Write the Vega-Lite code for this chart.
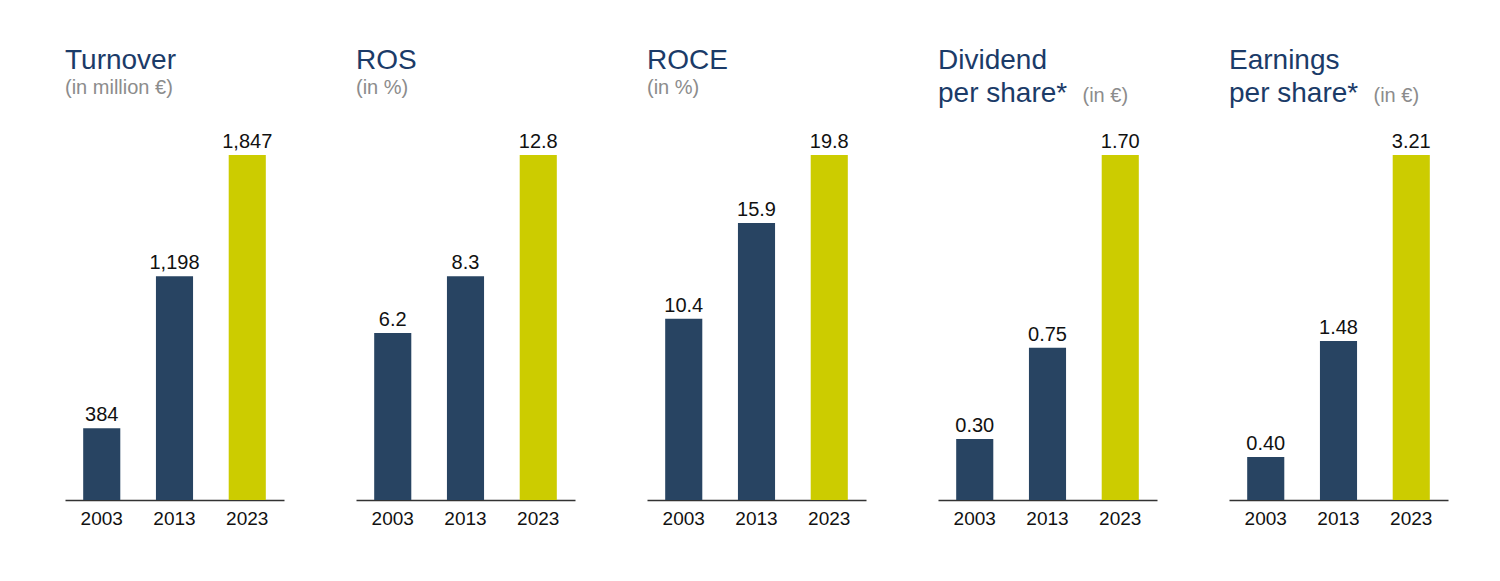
{
  "$schema": "https://vega.github.io/schema/vega-lite/v6.json",
  "padding": {"top": 47, "left": 65, "right": 5, "bottom": 5},
  "background": "white",
  "data": {"values": [
    {"metric": "Turnover", "year": "2003", "value": 384, "label": "384"},
    {"metric": "Turnover", "year": "2013", "value": 1198, "label": "1,198"},
    {"metric": "Turnover", "year": "2023", "value": 1847, "label": "1,847"},
    {"metric": "ROS", "year": "2003", "value": 6.2, "label": "6.2"},
    {"metric": "ROS", "year": "2013", "value": 8.3, "label": "8.3"},
    {"metric": "ROS", "year": "2023", "value": 12.8, "label": "12.8"},
    {"metric": "ROCE", "year": "2003", "value": 10.4, "label": "10.4"},
    {"metric": "ROCE", "year": "2013", "value": 15.9, "label": "15.9"},
    {"metric": "ROCE", "year": "2023", "value": 19.8, "label": "19.8"},
    {"metric": "Dividend", "year": "2003", "value": 0.30, "label": "0.30"},
    {"metric": "Dividend", "year": "2013", "value": 0.75, "label": "0.75"},
    {"metric": "Dividend", "year": "2023", "value": 1.70, "label": "1.70"},
    {"metric": "Earnings", "year": "2003", "value": 0.40, "label": "0.40"},
    {"metric": "Earnings", "year": "2013", "value": 1.48, "label": "1.48"},
    {"metric": "Earnings", "year": "2023", "value": 3.21, "label": "3.21"}
  ]},
  "spacing": 72,
  "hconcat": [
    {
      "width": 219, "height": 345,
      "title": {"text": "Turnover", "subtitle": "(in million €)", "offset": 34},
      "transform": [{"filter": "datum.metric === 'Turnover'"}],
      "encoding": {
        "x": {"field": "year", "type": "nominal", "title": null, "scale": {"paddingInner": 0.49, "paddingOuter": 0.25}},
        "y": {"field": "value", "type": "quantitative", "axis": null, "scale": {"nice": false, "zero": true}}
      },
      "layer": [
        {"mark": {"type": "bar"}, "encoding": {"color": {"field": "year", "type": "nominal", "legend": null, "scale": {"domain": ["2003", "2013", "2023"], "range": ["#284462", "#284462", "#cccc00"]}}}},
        {"mark": {"type": "text", "baseline": "alphabetic", "dy": -7, "fontSize": 20, "font": "Liberation Sans", "color": "#111111"}, "encoding": {"text": {"field": "label"}}}
      ]
    },
    {
      "width": 219, "height": 345,
      "title": {"text": "ROS", "subtitle": "(in %)", "offset": 34},
      "transform": [{"filter": "datum.metric === 'ROS'"}],
      "encoding": {
        "x": {"field": "year", "type": "nominal", "title": null, "scale": {"paddingInner": 0.49, "paddingOuter": 0.25}},
        "y": {"field": "value", "type": "quantitative", "axis": null, "scale": {"nice": false, "zero": true}}
      },
      "layer": [
        {"mark": {"type": "bar"}, "encoding": {"color": {"field": "year", "type": "nominal", "legend": null, "scale": {"domain": ["2003", "2013", "2023"], "range": ["#284462", "#284462", "#cccc00"]}}}},
        {"mark": {"type": "text", "baseline": "alphabetic", "dy": -7, "fontSize": 20, "font": "Liberation Sans", "color": "#111111"}, "encoding": {"text": {"field": "label"}}}
      ]
    },
    {
      "width": 219, "height": 345,
      "title": {"text": "ROCE", "subtitle": "(in %)", "offset": 34},
      "transform": [{"filter": "datum.metric === 'ROCE'"}],
      "encoding": {
        "x": {"field": "year", "type": "nominal", "title": null, "scale": {"paddingInner": 0.49, "paddingOuter": 0.25}},
        "y": {"field": "value", "type": "quantitative", "axis": null, "scale": {"nice": false, "zero": true}}
      },
      "layer": [
        {"mark": {"type": "bar"}, "encoding": {"color": {"field": "year", "type": "nominal", "legend": null, "scale": {"domain": ["2003", "2013", "2023"], "range": ["#284462", "#284462", "#cccc00"]}}}},
        {"mark": {"type": "text", "baseline": "alphabetic", "dy": -7, "fontSize": 20, "font": "Liberation Sans", "color": "#111111"}, "encoding": {"text": {"field": "label"}}}
      ]
    },
    {
      "width": 219, "height": 345,
      "title": {"text": ["Dividend", "per share*"], "subtitle": "\u200b\u00a0\u00a0\u00a0\u00a0\u00a0\u00a0\u00a0\u00a0\u00a0\u00a0\u00a0\u00a0\u00a0\u00a0\u00a0\u00a0\u00a0\u00a0\u00a0\u00a0\u00a0\u00a0\u00a0\u00a0\u00a0\u00a0(in €)", "subtitlePadding": -22, "lineHeight": 33, "offset": 24},
      "transform": [{"filter": "datum.metric === 'Dividend'"}],
      "encoding": {
        "x": {"field": "year", "type": "nominal", "title": null, "scale": {"paddingInner": 0.49, "paddingOuter": 0.25}},
        "y": {"field": "value", "type": "quantitative", "axis": null, "scale": {"nice": false, "zero": true}}
      },
      "layer": [
        {"mark": {"type": "bar"}, "encoding": {"color": {"field": "year", "type": "nominal", "legend": null, "scale": {"domain": ["2003", "2013", "2023"], "range": ["#284462", "#284462", "#cccc00"]}}}},
        {"mark": {"type": "text", "baseline": "alphabetic", "dy": -7, "fontSize": 20, "font": "Liberation Sans", "color": "#111111"}, "encoding": {"text": {"field": "label"}}}
      ]
    },
    {
      "width": 219, "height": 345,
      "title": {"text": ["Earnings", "per share*"], "subtitle": "\u200b\u00a0\u00a0\u00a0\u00a0\u00a0\u00a0\u00a0\u00a0\u00a0\u00a0\u00a0\u00a0\u00a0\u00a0\u00a0\u00a0\u00a0\u00a0\u00a0\u00a0\u00a0\u00a0\u00a0\u00a0\u00a0\u00a0(in €)", "subtitlePadding": -22, "lineHeight": 33, "offset": 24},
      "transform": [{"filter": "datum.metric === 'Earnings'"}],
      "encoding": {
        "x": {"field": "year", "type": "nominal", "title": null, "scale": {"paddingInner": 0.49, "paddingOuter": 0.25}},
        "y": {"field": "value", "type": "quantitative", "axis": null, "scale": {"nice": false, "zero": true}}
      },
      "layer": [
        {"mark": {"type": "bar"}, "encoding": {"color": {"field": "year", "type": "nominal", "legend": null, "scale": {"domain": ["2003", "2013", "2023"], "range": ["#284462", "#284462", "#cccc00"]}}}},
        {"mark": {"type": "text", "baseline": "alphabetic", "dy": -7, "fontSize": 20, "font": "Liberation Sans", "color": "#111111"}, "encoding": {"text": {"field": "label"}}}
      ]
    }
  ],
  "resolve": {"scale": {"y": "independent", "x": "independent"}},
  "config": {
    "view": {"stroke": null},
    "font": "Liberation Sans",
    "axisX": {
      "domainColor": "#333333", "domainWidth": 1.5, "ticks": false, "tickSize": 0,
      "labelAngle": 0, "labelFontSize": 19, "labelColor": "#111111", "labelPadding": 9,
      "labelFont": "Liberation Sans", "grid": false
    },
    "title": {
      "anchor": "start", "font": "Liberation Sans", "fontSize": 28, "fontWeight": "normal",
      "color": "#1b3b68", "lineHeight": 32,
      "subtitleFont": "Liberation Sans", "subtitleFontSize": 20, "subtitleColor": "#8c8c8c",
      "subtitlePadding": 0
    }
  }
}
